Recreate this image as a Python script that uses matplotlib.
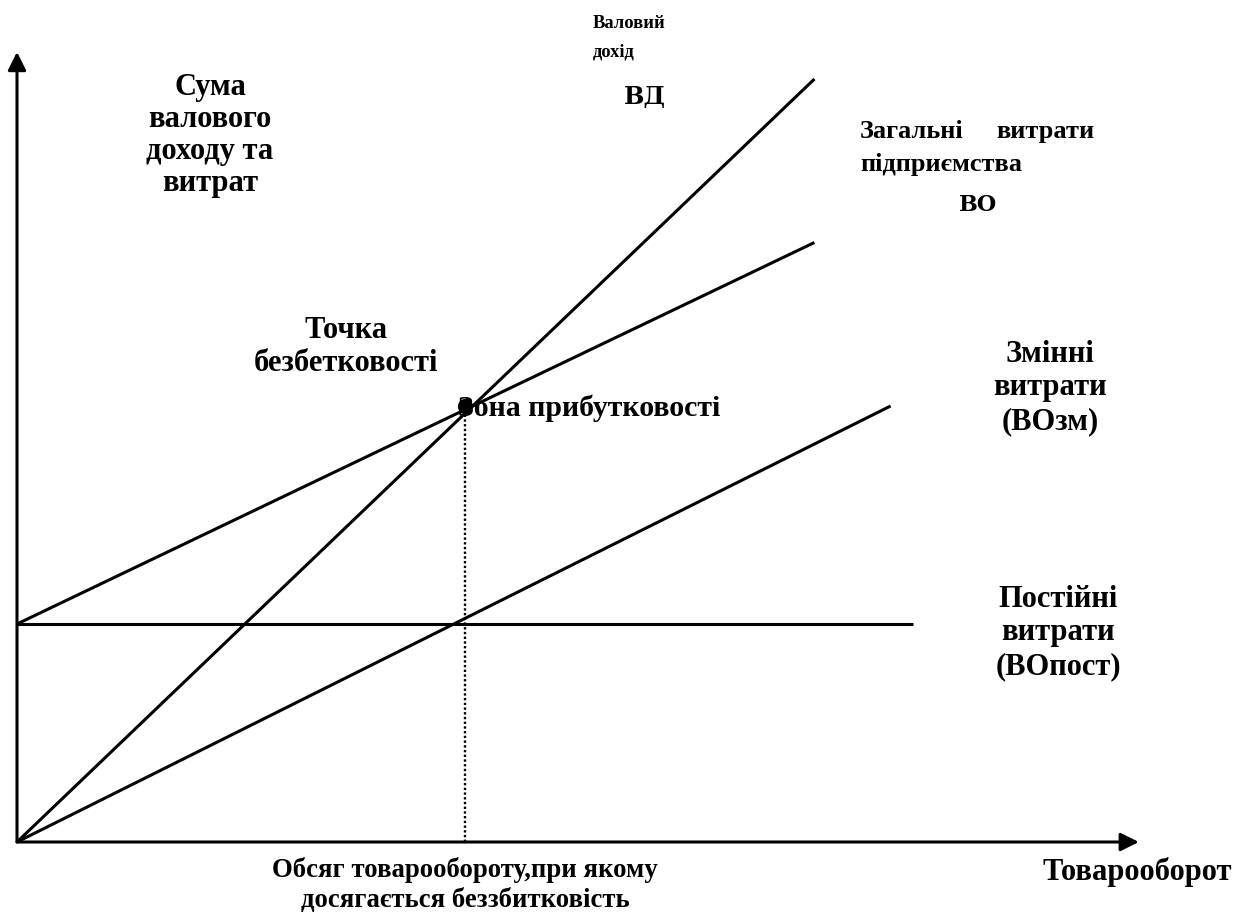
import matplotlib.pyplot as plt

plt.rcParams['font.family'] = ['Liberation Serif', 'DejaVu Serif']
plt.rcParams['font.weight'] = 'bold'

# валовий дохід (ВД)
turnover_rev = [0, 178]
revenue = [0, 350]
# загальні витрати (ВО)
turnover_total = [0, 178]
total_costs = [100, 275]
# змінні витрати
turnover_var = [0, 195]
variable_costs = [0, 200]
# постійні витрати
turnover_fixed = [0, 200]
fixed_costs = [100, 100]
# точка беззбитковості
be_turnover = 100
be_amount = 200

fig = plt.figure(figsize=(12.46, 9.14), dpi=100)
ax = fig.add_axes([0, 0, 1, 1])
ax.set_xlim(-17 / 4.48, (1246 - 17) / 4.48)
ax.set_ylim(-(914 - 842) / 2.18, 842 / 2.18)
ax.axis('off')

lw = 2.2
ax.plot(turnover_rev, revenue, color='black', lw=lw, solid_capstyle='butt')
ax.plot(turnover_total, total_costs, color='black', lw=lw, solid_capstyle='butt')
ax.plot(turnover_var, variable_costs, color='black', lw=lw, solid_capstyle='butt')
ax.plot(turnover_fixed, fixed_costs, color='black', lw=lw, solid_capstyle='butt')
ax.plot([be_turnover, be_turnover], [0, be_amount], color='black', lw=1.7,
        linestyle=(0, (1, 1)))
ax.plot(be_turnover, be_amount, 'o', color='black', markersize=10, zorder=5)

# осі зі стрілками
arrow = dict(arrowstyle='-|>,head_length=1.1,head_width=0.55', lw=lw,
             color='black', shrinkA=0, shrinkB=0)
ax.annotate('', xy=(0, 362.4), xytext=(0, 0), arrowprops=arrow)
ax.annotate('', xy=(250.4, 0), xytext=(0, 0), arrowprops=arrow)

fs = 22
ax.text(43.1, 324.0, 'Сума\nвалового\nдоходу та\nвитрат', ha='center', va='center',
        fontsize=fs, linespacing=1.14)
ax.text(128.6, 369.0, 'Валовий\nдохід', ha='left', va='center', fontsize=13.3,
        linespacing=1.9)
ax.text(140.2, 341.7, 'ВД', ha='center', va='center', fontsize=17.5,
        family='DejaVu Serif')
ax.text(188.2, 325.7, 'Загальні', ha='left', va='center', fontsize=19)
ax.text(240.6, 325.7, 'витрати', ha='right', va='center', fontsize=19)
ax.text(188.2, 310.6, 'підприємства', ha='left', va='center', fontsize=19)
ax.text(214.5, 292.2, 'ВО', ha='center', va='center', fontsize=16,
        family='DejaVu Serif')
ax.text(73.4, 227.0, 'Точка\nбезбетковості', ha='center', va='center',
        fontsize=fs, linespacing=1.2)
ax.text(98.4, 199.1, 'Зона прибутковості', ha='left', va='center', fontsize=21.5)
ax.text(230.6, 208.3, 'Змінні\nвитрати\n(ВОзм)', ha='center', va='center',
        fontsize=fs, linespacing=1.2)
ax.text(232.4, 95.9, 'Постійні\nвитрати\n(ВОпост)', ha='center', va='center',
        fontsize=fs, linespacing=1.2)
ax.text(100, -19.7, 'Обсяг товарообороту,при якому\nдосягається беззбитковість',
        ha='center', va='center', fontsize=19.3, linespacing=1.28)
ax.text(250, -13.8, 'Товарооборот', ha='center', va='center', fontsize=fs)

plt.savefig('out.png', dpi=100)
plt.close()
